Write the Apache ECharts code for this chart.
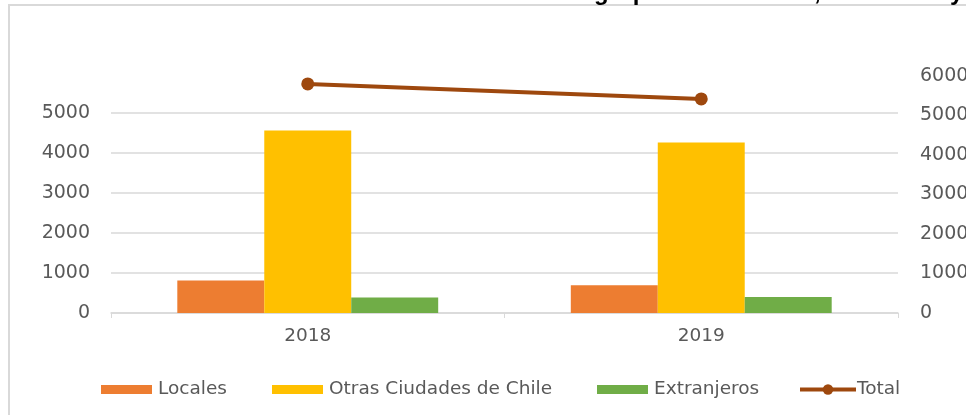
<!DOCTYPE html>
<html>
<head>
<meta charset="utf-8">
<script src="https://cdn.jsdelivr.net/npm/echarts@6/dist/echarts.min.js"></script>
<style>
html,body{margin:0;padding:0;background:#fff;}
#chart{width:966px;height:415px;}
</style>
</head>
<body>
<div id="chart"></div>
<script>
var categories = ['2018', '2019'];
var locales = [810, 695];
var otrasCiudades = [4565, 4265];
var extranjeros = [385, 400];
var total = [5800, 5420];
var leftTicks = [0, 1000, 2000, 3000, 4000, 5000];
var rightTicks = [0, 1000, 2000, 3000, 4000, 5000, 6000];
var seriesNames = ['Locales', 'Otras Ciudades de Chile', 'Extranjeros', 'Total'];
var titleLeft = 'Número de turistas atendidos del';
var titleRight = 'grupo de visitantes, años 2018 y 2019';

var chart = echarts.init(document.getElementById('chart'));
var font = 'DejaVu Sans';
var gray = '#595959';
var grid = '#d9d9d9';
var legendLefts = [96, 267, 592, 793];

function mkLegend(i) {
  var item = { name: seriesNames[i] };
  if (i < 3) item.icon = 'rect';
  return {
    left: legendLefts[i], top: 375,
    itemWidth: i < 3 ? 51 : 56, itemHeight: i < 3 ? 9 : 13, itemGap: 0,
    lineStyle: { width: 4 },
    textStyle: { color: gray, fontFamily: font, fontSize: 18.5, padding: [0, 0, 0, i < 3 ? 1 : -4] },
    data: [item]
  };
}

chart.setOption({
  animation: false,
  backgroundColor: '#fff',
  graphic: [
    { type: 'rect', shape: { x: 9, y: 5, width: 1000, height: 430 }, style: { fill: 'none', stroke: grid, lineWidth: 2 }, z: -1 },
    { type: 'text', x: 588, y: 5, style: { text: titleLeft, font: 'bold 24px "Liberation Sans"', fill: '#000', align: 'right', verticalAlign: 'bottom' } },
    { type: 'text', x: 594, y: 5, style: { text: titleRight, font: 'bold 24px "Liberation Sans"', fill: '#000', align: 'left', verticalAlign: 'bottom' } }
  ],
  grid: { left: 111, right: 68, top: 76, bottom: 102, containLabel: false, outerBoundsMode: 'none' },
  legend: [mkLegend(0), mkLegend(1), mkLegend(2), mkLegend(3)],
  xAxis: {
    type: 'category',
    data: categories,
    axisLine: { lineStyle: { color: grid, width: 1.5 } },
    axisTick: { show: true, length: 5, lineStyle: { color: grid } },
    axisLabel: { color: gray, fontFamily: font, fontSize: 18.5, margin: 14 }
  },
  yAxis: [
    {
      type: 'value', min: 0, max: 5925, interval: 1000,
      axisLine: { show: false }, axisTick: { show: false },
      axisLabel: { color: gray, fontFamily: font, fontSize: 19, margin: 21, showMaxLabel: false,
        formatter: function (v) { return leftTicks.indexOf(v) >= 0 ? String(v) : ''; } },
      splitLine: { show: true, showMaxLine: false, lineStyle: { color: grid, width: 1.5 } }
    },
    {
      type: 'value', min: 0, max: 6000, interval: 1000,
      axisLine: { show: false }, axisTick: { show: false },
      axisLabel: { color: gray, fontFamily: font, fontSize: 19, margin: 22,
        formatter: function (v) { return rightTicks.indexOf(v) >= 0 ? String(v) : ''; } },
      splitLine: { show: false }
    }
  ],
  series: [
    { name: seriesNames[0], type: 'bar', data: locales, itemStyle: { color: '#ed7d31' }, barGap: '0%', barCategoryGap: '33.7%' },
    { name: seriesNames[1], type: 'bar', data: otrasCiudades, itemStyle: { color: '#ffc000' }, barGap: '0%', barCategoryGap: '33.7%' },
    { name: seriesNames[2], type: 'bar', data: extranjeros, itemStyle: { color: '#70ad47' }, barGap: '0%', barCategoryGap: '33.7%' },
    { name: seriesNames[3], type: 'line', yAxisIndex: 1, data: total, symbol: 'circle', symbolSize: 13,
      lineStyle: { color: '#9e480e', width: 4 }, itemStyle: { color: '#9e480e' } }
  ]
});
</script>
</body>
</html>
